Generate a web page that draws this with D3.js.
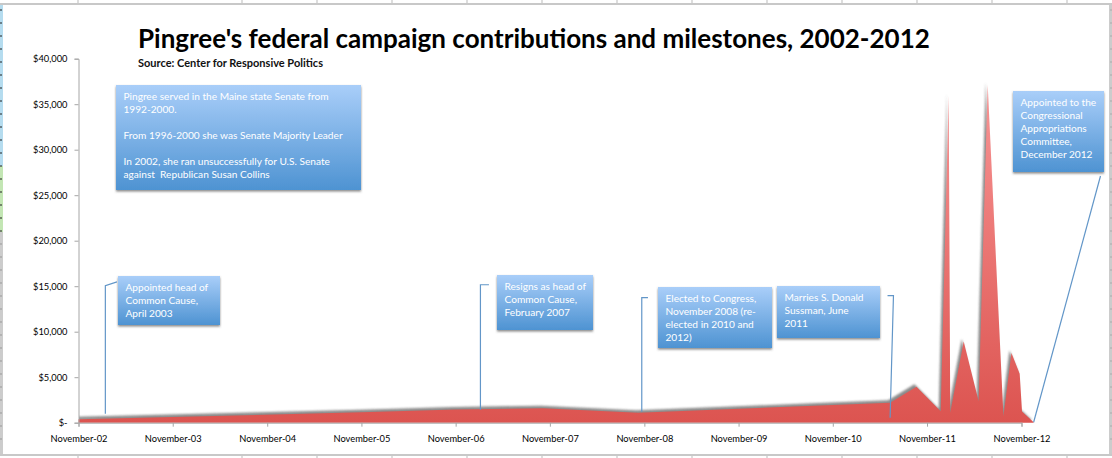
<!DOCTYPE html>
<html>
<head>
    <title>Pingree contributions</title>
    <meta charset="UTF-8">
    <script src="https://d3js.org/d3.v7.min.js"></script>
    <style>
        body { margin: 0; background: white; }
        svg { display: block; }
        text { font-family: Lato, "Open Sans", sans-serif; }
    </style>
</head>
<body>
<div id="chart"></div>
<script>
// contributions
var dates = ["2002-11-01", "2005-11-01", "2006-11-01", "2007-10-05", "2008-10-08", "2010-11-01",
    "2011-06-11", "2011-09-21", "2011-12-24", "2012-01-24", "2012-01-30", "2012-03-22",
    "2012-05-19", "2012-06-23", "2012-08-23", "2012-09-23", "2012-10-25", "2012-11-03", "2012-12-18"];
var amounts = [370, 1150, 1450, 1600, 1080, 1950,
    2200, 3950, 1250, 35900, 1100, 8930,
    2350, 37100, 700, 7650, 5380, 1240, 50];

var yTicks = [0, 5000, 10000, 15000, 20000, 25000, 30000, 35000, 40000];
var xTicks = ["2002-11-01", "2003-11-01", "2004-11-01", "2005-11-01", "2006-11-01", "2007-11-01",
    "2008-11-01", "2009-11-01", "2010-11-01", "2011-11-01", "2012-11-01"];

var titleText = "Pingree's federal campaign contributions and milestones, 2002-2012";
var sourceText = "Source: Center for Responsive Politics";

// milestone notes, one array of lines per box
var notes = [
    ["Pingree served in the Maine state Senate from", "1992-2000.", "", "From 1996-2000 she was Senate Majority Leader", "", "In 2002, she ran unsuccessfully for U.S. Senate", "against  Republican Susan Collins"],
    ["Appointed head of", "Common Cause,", "April 2003"],
    ["Resigns as head of", "Common Cause,", "February 2007"],
    ["Elected to Congress,", "November 2008 (re-", "elected in 2010 and", "2012)"],
    ["Marries S. Donald", "Sussman, June", "2011"],
    ["Appointed to the", "Congressional", "Appropriations", "Committee,", "December 2012"]
];

// leader lines from the notes down to the series: date / amount pairs
var leaderDates = [
    ["2003-02-13", "2003-02-13", "2003-03-30"],
    ["2007-02-05", "2007-02-05", "2007-03-10"],
    ["2008-10-22", "2008-10-22", "2008-11-15"],
    ["2011-06-11", "2011-06-24", "2011-06-01"],
    ["2012-12-18", "2013-09-03"]
];
var leaderAmounts = [
    [990, 15050, 15480],
    [1430, 15160, 15160],
    [1200, 13740, 13740],
    [550, 13960, 13960],
    [50, 27110]
];

var width = 1112, height = 458;

var svg = d3.select("#chart").append("svg")
    .attr("width", width)
    .attr("height", height);

var defs = svg.append("defs");

var redGrad = defs.append("linearGradient").attr("id", "redGrad")
    .attr("gradientUnits", "userSpaceOnUse")
    .attr("x1", 0).attr("x2", 0).attr("y1", 85).attr("y2", 423);
redGrad.append("stop").attr("offset", "0%").attr("stop-color", "#f89494");
redGrad.append("stop").attr("offset", "100%").attr("stop-color", "#dc5450");

var blueGrad = defs.append("linearGradient").attr("id", "blueGrad")
    .attr("x1", 0).attr("x2", 0).attr("y1", 0).attr("y2", 1);
blueGrad.append("stop").attr("offset", "0%").attr("stop-color", "#a9cef9");
blueGrad.append("stop").attr("offset", "100%").attr("stop-color", "#4e93d2");

defs.append("filter").attr("id", "areaBlur")
    .attr("x", "-5%").attr("y", "-5%").attr("width", "110%").attr("height", "110%")
    .append("feGaussianBlur").attr("stdDeviation", 1.1);

var boxShadow = defs.append("filter").attr("id", "boxShadow")
    .attr("x", "-10%").attr("y", "-10%").attr("width", "120%").attr("height", "125%");
boxShadow.append("feDropShadow")
    .attr("dx", 0).attr("dy", 1.5).attr("stdDeviation", 1.2)
    .attr("flood-color", "#555").attr("flood-opacity", 0.7);

defs.append("clipPath").attr("id", "plotClip").append("rect")
    .attr("x", 79).attr("y", 50).attr("width", 1000).attr("height", 373);

// spreadsheet showing around the pasted chart
var edge = svg.append("g");
edge.append("rect").attr("x", 0).attr("y", 4).attr("width", 3).attr("height", 162).attr("fill", "#b5dcef");
edge.append("rect").attr("x", 0).attr("y", 166).attr("width", 3).attr("height", 66).attr("fill", "#c3e6b4");
edge.append("rect").attr("x", 0).attr("y", 232).attr("width", 3).attr("height", 224).attr("fill", "#cccccc");
edge.append("rect").attr("x", 1109).attr("y", 3).attr("width", 3).attr("height", 453).attr("fill", "#cccccc");
edge.append("rect").attr("x", 0).attr("y", 3).attr("width", 1112).attr("height", 2).attr("fill", "#c8c8c8");
edge.append("rect").attr("x", 0).attr("y", 454).attr("width", 1112).attr("height", 2).attr("fill", "#c8c8c8");

d3.range(10, 450, 13).forEach(function(rowY) {
    edge.append("line")
        .attr("x1", 0).attr("x2", 2).attr("y1", rowY).attr("y2", rowY)
        .attr("stroke", rowY < 232 ? "#222" : "#999");
    edge.append("line")
        .attr("x1", 1110).attr("x2", 1112).attr("y1", rowY).attr("y2", rowY)
        .attr("stroke", "#aaa");
});
[78].concat(d3.range(242, 1100, 75)).forEach(function(colX) {
    edge.append("line")
        .attr("x1", colX).attr("x2", colX).attr("y1", 0).attr("y2", 3)
        .attr("stroke", "#bbb");
    edge.append("line")
        .attr("x1", colX).attr("x2", colX).attr("y1", 456).attr("y2", 458)
        .attr("stroke", "#bbb");
});

// scales
var parseDay = d3.utcParse("%Y-%m-%d");

var x = d3.scaleUtc()
    .domain([parseDay("2002-11-01"), parseDay("2012-11-01")])
    .range([78.5, 1021.5]);

var y = d3.scaleLinear()
    .domain([0, 40000])
    .range([422.7, 58.7]);

var series = dates.map(function(d, i) {
    return { date: parseDay(d), amount: amounts[i] };
});

var area = d3.area()
    .x(function(d) { return x(d.date); })
    .y0(y(0))
    .y1(function(d) { return y(d.amount); });

// grey shadow behind the area, up and to the left
svg.append("g").attr("clip-path", "url(#plotClip)")
    .append("path")
    .datum(series)
    .attr("d", area)
    .attr("transform", "translate(-2,-2.5)")
    .attr("fill", "#5a5a5a")
    .attr("opacity", 0.7)
    .attr("filter", "url(#areaBlur)");

svg.append("path")
    .datum(series)
    .attr("d", area)
    .attr("fill", "url(#redGrad)");

// axes
var yAxis = d3.axisLeft(y)
    .tickValues(yTicks)
    .tickSize(4)
    .tickPadding(7)
    .tickFormat(function(d) { return d === 0 ? "$-" : d3.format("$,")(d); });

var xAxis = d3.axisBottom(x)
    .tickValues(xTicks.map(parseDay))
    .tickSize(4)
    .tickPadding(9)
    .tickFormat(d3.utcFormat("%B-%y"));

var yG = svg.append("g").attr("transform", "translate(78.5,0)").call(yAxis);
var xG = svg.append("g").attr("transform", "translate(0,422.7)").call(xAxis);

[yG, xG].forEach(function(g) {
    g.selectAll("path, line").attr("stroke", "#a6a6a6");
    g.selectAll("text").attr("fill", "#000").style("font-size", "9.3px");
});

// leader lines
var leader = d3.line()
    .x(function(d) { return x(parseDay(d[0])); })
    .y(function(d) { return y(d[1]); });

leaderDates.forEach(function(ds, i) {
    svg.append("path")
        .attr("d", leader(ds.map(function(d, j) { return [d, leaderAmounts[i][j]]; })))
        .attr("fill", "none")
        .attr("stroke", "#6296c8")
        .attr("stroke-width", 1.2);
});

// note boxes: left, top, right, bottom of each box
var noteBoxes = [
    [116, 85, 361, 190],
    [118, 276, 220, 325],
    [497, 275, 593, 330],
    [658, 287, 772, 348],
    [777, 286, 880, 338],
    [1013, 91, 1104, 172]
];
var noteLine = 13;

notes.forEach(function(lines, i) {
    var b = noteBoxes[i];
    var g = svg.append("g");
    g.append("rect")
        .attr("x", b[0]).attr("y", b[1])
        .attr("width", b[2] - b[0]).attr("height", b[3] - b[1])
        .attr("fill", "url(#blueGrad)")
        .attr("filter", "url(#boxShadow)");
    g.selectAll("text").data(lines).enter().append("text")
        .attr("x", b[0] + 7.5)
        .attr("y", function(d, j) { return b[1] + 15 + j * noteLine; })
        .attr("fill", "white")
        .style("white-space", "pre")
        .style("font-size", "10.15px")
        .text(function(d) { return d; });
});

// title and source
svg.append("text")
    .attr("x", 138).attr("y", 48)
    .attr("fill", "black")
    .style("font-size", "26px")
    .style("font-weight", "700")
    .text(titleText);

svg.append("text")
    .attr("x", 138).attr("y", 66.5)
    .attr("fill", "#111")
    .style("font-size", "11px")
    .style("font-weight", "700")
    .text(sourceText);
</script>
</body>
</html>
